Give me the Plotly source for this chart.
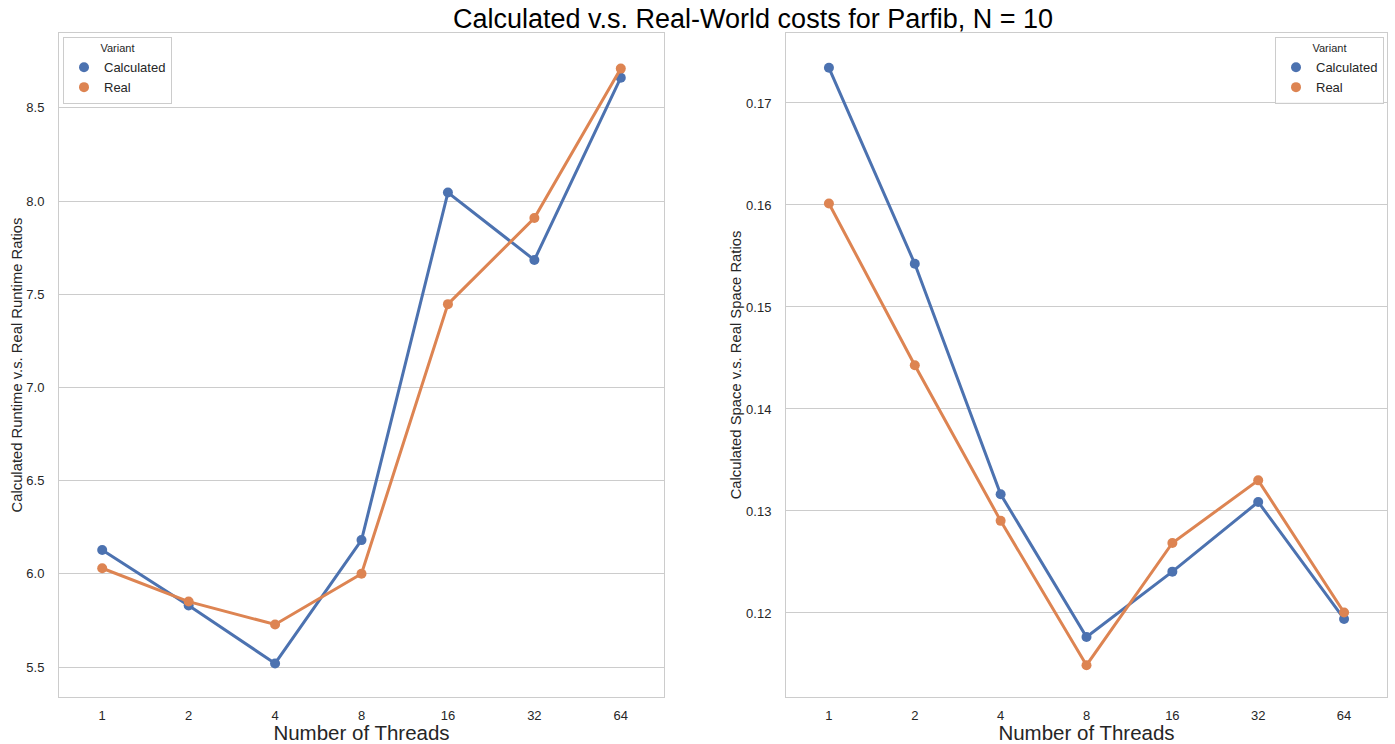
import plotly.graph_objects as go

threads = ["1", "2", "4", "8", "16", "32", "64"]
runtime_calculated = [6.128, 5.830, 5.519, 6.181, 8.046, 7.684, 8.662]
runtime_real = [6.030, 5.851, 5.728, 6.000, 7.447, 7.909, 8.711]
space_calculated = [0.17345, 0.15423, 0.13164, 0.11765, 0.12405, 0.13088, 0.11941]
space_real = [0.16015, 0.14428, 0.12903, 0.11488, 0.12686, 0.13300, 0.12004]

runtime_ticks = [5.5, 6.0, 6.5, 7.0, 7.5, 8.0, 8.5]
space_ticks = [0.12, 0.13, 0.14, 0.15, 0.16, 0.17]

BLUE = "#4C72B0"
ORANGE = "#DD8452"
GRID = "#cccccc"
TXT = "#262626"
FONT = "Liberation Sans, Arial, sans-serif"

fig = go.Figure()

def add_series(xa, ya, ys, color, name, legend):
    fig.add_trace(go.Scatter(x=threads, y=ys, xaxis=xa, yaxis=ya, mode="lines+markers",
                             line=dict(color=color, width=3), marker=dict(color=color, size=10),
                             showlegend=False, name=name))
    fig.add_trace(go.Scatter(x=[None], y=[None], xaxis=xa, yaxis=ya, mode="markers",
                             marker=dict(color=color, size=10), name=name, legend=legend,
                             showlegend=True))

add_series("x", "y", runtime_calculated, BLUE, "Calculated", "legend")
add_series("x", "y", runtime_real, ORANGE, "Real", "legend")
add_series("x2", "y2", space_calculated, BLUE, "Calculated", "legend2")
add_series("x2", "y2", space_real, ORANGE, "Real", "legend2")

W, H = 1395, 744
dom_y = [1 - 697 / H, 1 - 33 / H]

xcommon = dict(type="category", range=[-0.5, 6.5], showgrid=False, showline=True,
               linecolor=GRID, linewidth=1, mirror=True, ticks="", zeroline=False,
               tickfont=dict(size=13, color=TXT, family=FONT),
               title=dict(text="Number of Threads", font=dict(size=20.5, color=TXT, family=FONT), standoff=6),
               ticklabelstandoff=6)
ycommon = dict(showgrid=True, gridcolor=GRID, gridwidth=1, showline=True, linecolor=GRID,
               linewidth=1, mirror=True, ticks="", zeroline=False,
               tickfont=dict(size=13, color=TXT, family=FONT), ticklabelstandoff=11)

def legend_style(x, xanchor):
    return dict(x=x, y=1 - 37 / H, xanchor=xanchor, yanchor="top",
                bordercolor=GRID, borderwidth=1, bgcolor="rgba(255,255,255,0.8)",
                font=dict(size=13, color=TXT, family=FONT),
                title=dict(text="Variant", side="top center", font=dict(size=11, color=TXT, family=FONT)),
                itemwidth=30, tracegroupgap=0)

fig.update_layout(
    width=W, height=H,
    margin=dict(l=0, r=0, t=0, b=0),
    paper_bgcolor="white", plot_bgcolor="white",
    font=dict(family=FONT, color=TXT),
    title=dict(text="Calculated v.s. Real-World costs for Parfib, N = 10",
               x=753 / W, xanchor="center", y=1 - 19 / H, yanchor="middle", yref="container",
               font=dict(size=27, color="black", family=FONT)),
    xaxis=dict(domain=[59 / W, 664 / W], anchor="y", **xcommon),
    xaxis2=dict(domain=[786 / W, 1387 / W], anchor="y2", **xcommon),
    yaxis=dict(domain=dom_y, anchor="x", range=[5.339, 8.902], tickvals=runtime_ticks,
               ticktext=[f"{v:.1f}" for v in runtime_ticks],
               title=dict(text="Calculated Runtime v.s. Real Runtime Ratios",
                          font=dict(size=14.8, color=TXT, family=FONT), standoff=0),
               **ycommon),
    yaxis2=dict(domain=dom_y, anchor="x2", range=[0.11176, 0.17686], tickvals=space_ticks,
                ticktext=[f"{v:.2f}" for v in space_ticks],
                title=dict(text="Calculated Space v.s. Real Space Ratios",
                           font=dict(size=14.8, color=TXT, family=FONT), standoff=0),
                **ycommon),
    legend=legend_style(63 / W, "left"),
    legend2=legend_style(1384 / W, "right"),
)

fig.write_html("out.html")
